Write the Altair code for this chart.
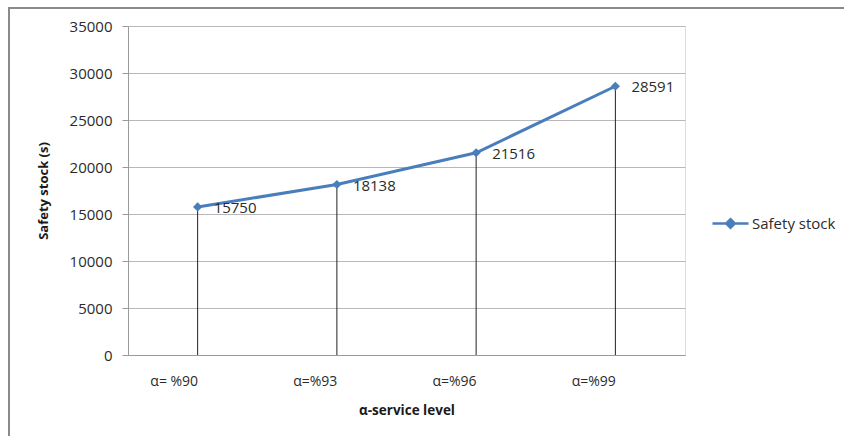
import altair as alt
import pandas as pd

levels = ["α= %90", "α=%93", "α=%96", "α=%99"]
stock = [15750, 18138, 21516, 28591]
series = ["Safety stock"] * 4

df = pd.DataFrame({"level": levels, "stock": stock, "series": series})

FONT = "Open Sans"
BLUE = "#4A7EBB"

x_enc = alt.X("level:N", sort=levels, scale=alt.Scale(type="point", padding=0.5),
              axis=alt.Axis(title="α-service level", labelAngle=0, ticks=False,
                            labelPadding=26, labelFontSize=14, labelColor="#2b2b2b",
                            titleFontSize=13.5, titleFontWeight="bold", titleColor="#1a1a1a",
                            titleY=55, titleBaseline="middle",
                            domainColor="#9a9a9a", grid=False))
y_enc = alt.Y("stock:Q", scale=alt.Scale(domain=[0, 35000], nice=False),
              axis=alt.Axis(title="Safety stock (s)", values=list(range(0, 35001, 5000)),
                            format="d", tickSize=6, tickColor="#9a9a9a", labelPadding=10,
                            labelFontSize=15, labelColor="#2b2b2b",
                            titleFontSize=13, titleFontWeight="bold", titleColor="#1a1a1a",
                            titleX=-85, titleY=164.5, titleAngle=-90,
                            titleAlign="center", titleBaseline="middle",
                            domainColor="#9a9a9a", gridColor="#b8b8b8", gridWidth=1.2))

base = alt.Chart(df)

drops = base.mark_rule(color="#222222", strokeWidth=1).encode(
    x=alt.X("level:N", sort=levels), y="stock:Q", y2=alt.datum(0))

color = alt.Color("series:N", scale=alt.Scale(range=[BLUE]),
                  legend=alt.Legend(title=None, orient="none", legendX=583, legendY=178,
                                    symbolType="M-1,0L1,0M0,-0.24L0.24,0L0,0.24L-0.24,0Z",
                                    symbolSize=1300, symbolStrokeWidth=2.5,
                                    symbolFillColor=BLUE, symbolStrokeColor=BLUE,
                                    labelFont=FONT, labelFontSize=15, labelColor="#2b2b2b",
                                    labelOffset=2))

line = base.mark_line(strokeWidth=3).encode(x=x_enc, y=y_enc, color=color)
pts = base.mark_point(shape="diamond", filled=True, size=85, opacity=1).encode(
    x=alt.X("level:N", sort=levels), y="stock:Q", color=color)
labels = base.mark_text(align="left", baseline="middle", dx=16, dy=1, font=FONT,
                        fontSize=15, color="#2b2b2b").encode(
    x=alt.X("level:N", sort=levels), y="stock:Q", text="stock:Q")

border_left = alt.Chart(pd.DataFrame({"a": [0]})).mark_rule(color="#8a8a8a", strokeWidth=2).encode(
    x=alt.value(-119), y=alt.value(-18), y2=alt.value(420))
border_top = alt.Chart(pd.DataFrame({"a": [0]})).mark_rule(color="#8a8a8a", strokeWidth=2).encode(
    x=alt.value(-120), x2=alt.value(720), y=alt.value(-18))

chart = alt.layer(drops, line, pts, labels, border_left, border_top).properties(
    width=557, height=329,
    autosize=alt.AutoSizeParams(type="none"),
    padding={"left": 128, "top": 26, "right": 159, "bottom": 81},
).configure_view(stroke=None).configure(font=FONT, background="white")

chart.save("out.html", embed_options={"renderer": "svg", "actions": False})
